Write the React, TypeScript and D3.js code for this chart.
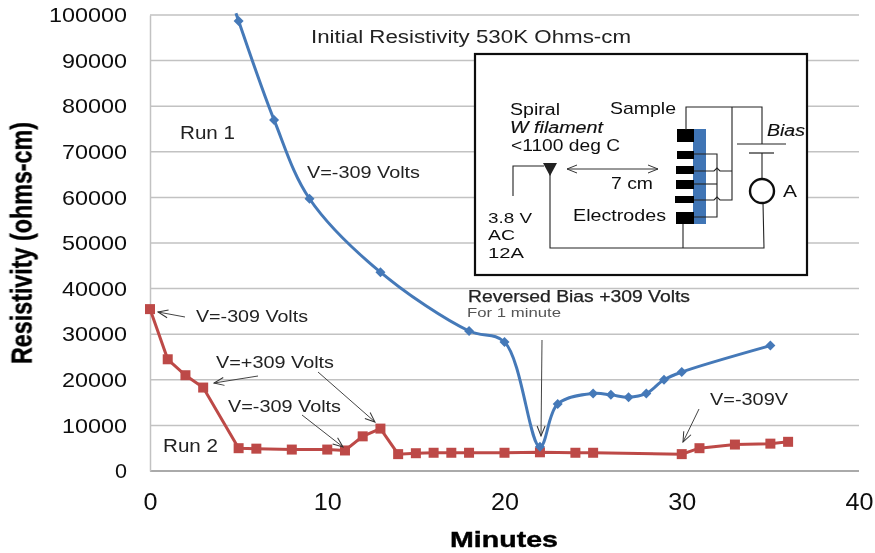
import { useEffect, useRef } from "react"
import * as d3 from "d3"

// values
const run1Minutes = [4.85, 5, 7, 9, 13, 18, 20, 22, 23, 25, 26, 27, 28, 29, 30, 35]
const run1Values = [100400, 98700, 77000, 59700, 43600, 30700, 28300, 5300, 14700, 17000, 16700, 16200, 17000, 20000, 21700, 27500]
const run2Minutes = [0, 1, 2, 3, 5, 6, 8, 10, 11, 12, 13, 14, 15, 16, 17, 18, 20, 22, 24, 25, 30, 31, 33, 35, 36]
const run2Values = [35500, 24500, 21000, 18300, 5000, 4900, 4700, 4700, 4500, 7600, 9300, 3700, 3900, 4000, 4000, 4000, 4000, 4100, 4000, 4000, 3700, 5000, 5800, 6000, 6400]
const xTicks = [0, 10, 20, 30, 40]
const yTicks = [0, 10000, 20000, 30000, 40000, 50000, 60000, 70000, 80000, 90000, 100000]

const font = "'Liberation Sans', Arial, sans-serif"
const blue = "#4579b8"
const red = "#bd4a47"

const x = d3.scaleLinear().domain([0, 40]).range([150, 859])
const y = d3.scaleLinear().domain([0, 100000]).range([471, 15])

// inset wiring, as [x, y] paths
const wires = [
  [[513, 196], [513, 166], [544, 166]],
  [[550, 172], [550, 248], [764, 248], [763, 203]],
  [[762, 180], [762, 153]],
  [[762, 144], [762, 107], [686, 107], [686, 130]],
  [[732, 107], [732, 200], [720, 200], [717, 197], [714, 200], [694, 200]],
  [[732, 171], [720, 171], [717, 168], [714, 171], [694, 171]],
  [[694, 154], [717, 154], [717, 217], [694, 217]],
  [[694, 184], [717, 184]],
  [[683, 224], [683, 248]],
]
const electrodes = [[677, 129, 17, 13], [677, 151, 17, 8], [676, 166, 18, 8], [676, 180, 18, 9], [675, 196, 19, 7], [676, 212, 18, 12]]

const insetText = [
  { t: "Spiral", x: 510, y: 115, w: 50, size: 16 },
  { t: "W filament", x: 510, y: 133, w: 93, size: 16, italic: true },
  { t: "<1100 deg C", x: 511, y: 151, w: 109, size: 16 },
  { t: "Sample", x: 610, y: 114, w: 66, size: 17 },
  { t: "Bias", x: 767, y: 136, w: 38, size: 16, italic: true },
  { t: "7 cm", x: 611, y: 189, w: 42, size: 17 },
  { t: "Electrodes", x: 573, y: 221, w: 93, size: 17 },
  { t: "A", x: 783, y: 197, w: 14, size: 17 },
  { t: "3.8 V", x: 488, y: 223, w: 44, size: 14.5 },
  { t: "AC", x: 488, y: 240, w: 27, size: 14.5 },
  { t: "12A", x: 488, y: 258, w: 36, size: 14.5 },
]

const notes = [
  { t: "Initial Resistivity 530K Ohms-cm", x: 311, y: 43, w: 320, size: 17.5 },
  { t: "Run 1", x: 180, y: 139, w: 55, size: 18 },
  { t: "V=-309 Volts", x: 307, y: 178, w: 113, size: 16 },
  { t: "V=-309 Volts", x: 196, y: 322, w: 112, size: 16 },
  { t: "V=+309 Volts", x: 216, y: 368, w: 118, size: 16 },
  { t: "V=-309 Volts", x: 228, y: 412, w: 113, size: 16 },
  { t: "Run 2", x: 163, y: 452, w: 55, size: 18 },
  { t: "Reversed Bias +309 Volts", x: 468, y: 302, w: 222, size: 16, heavy: true },
  { t: "For 1 minute", x: 467, y: 317, w: 94, size: 12, fill: "#555" },
  { t: "V=-309V", x: 710, y: 405, w: 78, size: 16 },
]

const arrows = [
  [185, 317, 158, 312],
  [258, 376, 214, 383],
  [318, 372, 375, 422],
  [302, 415, 343, 447],
  [542, 340, 541, 436],
  [699, 409, 683, 442],
]

const App = () => {
  const chartRef = useRef<SVGGElement>(null)

  useEffect(() => {
    const g = d3.select(chartRef.current)
    g.selectAll("*").remove()

    // grid lines
    g.append("g")
      .selectAll("line")
      .data(yTicks)
      .join("line")
      .attr("x1", x(0))
      .attr("x2", x(40))
      .attr("y1", d => y(d))
      .attr("y2", d => y(d))
      .attr("stroke", d => (d === 0 ? "#aaa" : "#c2c2c2"))
      .attr("stroke-width", d => (d === 0 ? 2 : 1.5))

    // axes
    const yAxis = g.append("g")
      .attr("transform", `translate(${x(0)},0)`)
      .call(d3.axisLeft(y).tickValues(yTicks).tickSize(0).tickPadding(23).tickFormat(d3.format("d")))
    yAxis.select(".domain").attr("stroke", "#c2c2c2").attr("stroke-width", 1.5)
    yAxis.selectAll("text")
      .attr("font-family", font)
      .attr("font-size", 21)
      .attr("fill", "#111")
      .attr("textLength", d => (d === 100000 ? 78 : d === 0 ? 12 : 65))
      .attr("lengthAdjust", "spacingAndGlyphs")

    const xAxis = g.append("g")
      .attr("transform", `translate(0,${y(0)})`)
      .call(d3.axisBottom(x).tickValues(xTicks).tickSize(0).tickPadding(23).tickFormat(d3.format("d")))
    xAxis.select(".domain").remove()
    xAxis.selectAll("text")
      .attr("font-family", font)
      .attr("font-size", 23)
      .attr("fill", "#111")
      .attr("textLength", d => (d === 0 ? 14 : 28))
      .attr("lengthAdjust", "spacingAndGlyphs")

    // run 2
    const run2 = run2Minutes.map((m, i) => [m, run2Values[i]])
    g.append("path")
      .datum(run2)
      .attr("fill", "none")
      .attr("stroke", red)
      .attr("stroke-width", 3)
      .attr("d", d3.line().x(d => x(d[0])).y(d => y(d[1])))
    g.selectAll(".run2")
      .data(run2)
      .join("rect")
      .attr("class", "run2")
      .attr("x", d => x(d[0]) - 5)
      .attr("y", d => y(d[1]) - 5)
      .attr("width", 10)
      .attr("height", 10)
      .attr("fill", red)

    // run 1, smoothed the way the spreadsheet does
    const run1 = run1Minutes.map((m, i) => [m, run1Values[i]])
    g.append("path")
      .datum(run1)
      .attr("fill", "none")
      .attr("stroke", blue)
      .attr("stroke-width", 3)
      .attr("d", d3.line().curve(d3.curveCatmullRom.alpha(0.5)).x(d => x(d[0])).y(d => y(d[1])))
    g.selectAll(".run1")
      .data(run1.filter(d => d[1] <= 100000))
      .join("path")
      .attr("class", "run1")
      .attr("transform", d => `translate(${x(d[0])},${y(d[1])}) rotate(45)`)
      .attr("d", d3.symbol(d3.symbolSquare, 50))
      .attr("fill", blue)
  }, [])

  const filament = d3.line()([[543, 163], [557, 163], [550, 176]])
  const wire = d3.line()

  return (
    <svg
      width={875}
      height={553}
      style={{ position: "absolute", left: 0, top: 0, background: "#fff" }}
    >
      <defs>
        <filter id="soft" x="0" y="0" width="100%" height="100%">
          <feGaussianBlur stdDeviation="0.5" />
        </filter>
        <marker id="head" markerWidth="12" markerHeight="10" refX="11" refY="5" orient="auto" markerUnits="userSpaceOnUse">
          <path d="M1,1 L11,5 L1,9" fill="none" stroke="#333" strokeWidth="1" />
        </marker>
        <marker id="headStart" markerWidth="12" markerHeight="10" refX="1" refY="5" orient="auto" markerUnits="userSpaceOnUse">
          <path d="M11,1 L1,5 L11,9" fill="none" stroke="#333" strokeWidth="1" />
        </marker>
      </defs>
      <g filter="url(#soft)" fontFamily={font}>
        <g ref={chartRef} />

        {/* inset schematic */}
        <rect x={475} y={54} width={332} height={221} fill="#fff" stroke="#111" strokeWidth={2.2} />
        <rect x={693} y={129} width={13} height={95} fill="#3f75b5" />
        {electrodes.map((e, i) => (
          <rect key={i} x={e[0]} y={e[1]} width={e[2]} height={e[3]} fill="#000" />
        ))}
        {wires.map((w, i) => (
          <path key={i} d={wire(w as [number, number][]) ?? ""} fill="none" stroke="#222" strokeWidth={1.1} />
        ))}
        <path d={filament ?? ""} fill="#222" />
        <line x1={737} x2={786} y1={144} y2={144} stroke="#222" strokeWidth={1.2} />
        <line x1={749} x2={774} y1={153} y2={153} stroke="#222" strokeWidth={1.2} />
        <circle cx={762} cy={191} r={12} fill="#fff" stroke="#111" strokeWidth={2.4} />
        <line x1={567} x2={658} y1={169} y2={169} stroke="#333" markerStart="url(#headStart)" markerEnd="url(#head)" />
        {insetText.map((d, i) => (
          <text
            key={i}
            x={d.x}
            y={d.y}
            fontSize={d.size}
            fontStyle={d.italic ? "italic" : "normal"}
            fill="#111"
            stroke={d.italic ? "#111" : "none"}
            strokeWidth={0.15}
            textLength={d.w}
            lengthAdjust="spacingAndGlyphs"
          >
            {d.t}
          </text>
        ))}

        {/* annotations */}
        {notes.map((d, i) => (
          <text
            key={i}
            x={d.x}
            y={d.y}
            fontSize={d.size}
            fill={d.fill ?? "#222"}
            stroke={d.heavy ? "#222" : "none"}
            strokeWidth={0.25}
            textLength={d.w}
            lengthAdjust="spacingAndGlyphs"
          >
            {d.t}
          </text>
        ))}
        {arrows.map((a, i) => (
          <line key={i} x1={a[0]} y1={a[1]} x2={a[2]} y2={a[3]} stroke="#444" strokeWidth={1} markerEnd="url(#head)" />
        ))}

        {/* axis titles */}
        <text
          transform="translate(32,243) rotate(-90) scale(1,1.45)"
          textAnchor="middle"
          fontSize={20}
          fontWeight="bold"
          fill="#000"
          stroke="#000"
          strokeWidth={0.3}
          textLength={242}
          lengthAdjust="spacingAndGlyphs"
        >
          Resistivity (ohms-cm)
        </text>
        <text x={450} y={547} fontSize={22} fontWeight="bold" fill="#000" stroke="#000" strokeWidth={0.4} textLength={108} lengthAdjust="spacingAndGlyphs">
          Minutes
        </text>
      </g>
    </svg>
  )
}

export default App
